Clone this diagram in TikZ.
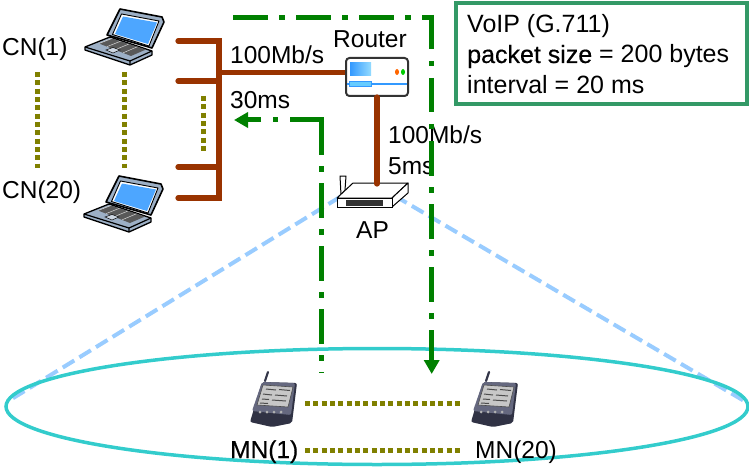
\documentclass[tikz,border=0pt]{standalone}
\usepackage{fontspec}
\setmainfont{Liberation Sans}
\newfontfamily\heavyface[FakeBold=0.4]{Liberation Sans}
\usetikzlibrary{arrows.meta,shapes.geometric,calc}
\definecolor{wire}{HTML}{993300}
\definecolor{flow}{HTML}{008000}
\definecolor{dots}{HTML}{808000}
\definecolor{cell}{HTML}{33CCCC}
\definecolor{cone}{HTML}{99CCFF}
\definecolor{boxline}{HTML}{339966}
\definecolor{scr}{HTML}{4DA6FF}
\definecolor{lapbody}{HTML}{9DB0C6}
\definecolor{pdabody}{HTML}{4A4D68}
\definecolor{routerblue}{HTML}{3399FF}
\definecolor{routerscr}{HTML}{66CCFF}
\tikzset{
  lbl/.style={anchor=base west,inner sep=0pt,font=\fontsize{24.5}{28}\selectfont,text=black},
  boxlbl/.style={anchor=base west,inner sep=0pt,font=\fontsize{25}{28}\selectfont,text=black},
  wireline/.style={draw=wire,line width=5.2pt,line cap=round,line join=miter},
  flowline/.style={draw=flow,line width=5pt,dash pattern=on 34.5pt off 11.5pt on 5.5pt off 11.5pt},
  flowtip/.style={-{Triangle[length=14pt,width=15pt]}},
  dotline/.style={draw=dots,line width=5pt,dash pattern=on 5pt off 3.33pt},
  conedash/.style={draw=cone,line width=4pt,dash pattern=on 13.5pt off 6pt},
  laptop/.pic={
    \fill[lapbody,draw=black,line width=1.3pt,line join=round]
      (85,47)--(110,37)--(152,51)--(152,55)--(130,65)--(85,50)--cycle;
    \draw[black,line width=1.2pt] (85,47)--(130,61)--(152,51) (130,61)--(130,65);
    \fill[black!65] (99,43.5)--(112,38.5)--(146,49.5)--(131,56)--cycle;
    \foreach \kt in {0,0.25,0.5,0.75}{
      \draw[black!15,line width=.5pt] ($(99,43.5)!\kt!(131,56)$)--($(112,38.5)!\kt!(146,49.5)$);}
    \fill[lapbody!50,draw=black,line width=.5pt] (106,50)--(113,47.5)--(120,50)--(113,53)--cycle;
    \fill[lapbody,draw=black,line width=1.6pt,line join=round]
      (120,9)--(162,17)--(164,22)--(152,48)--(107,35)--cycle;
    \fill[white,draw=black,line width=.9pt,line join=round] (121.5,14)--(159,21)--(149,46)--(112.5,34.5)--cycle;
    \fill[scr] (123,16.5)--(157,22.5)--(148,44)--(115,34)--cycle;
  },
  pda/.pic={
    \draw[pdabody!70!black,line width=2.2pt,line cap=round] (265,381)--(268,372);
    \fill[pdabody!65!black,rounded corners=2pt] (262,382)--(297,383)--(292,423)--(272,427)--(250,422)--cycle;
    \fill[pdabody!85!white,rounded corners=2pt] (262,382)--(295,383)--(291,415)--(252,411)--cycle;
    \fill[black!22,draw=black!70,line width=.6pt] (263,385)--(293,387)--(288,407)--(257,405)--cycle;
    \draw[black!70,line width=1pt] (266,389)--(276,390) (279,389.5)--(290,390.5)
      (263,394)--(272,395) (275,395)--(287,396)
      (262,399)--(269,399.5) (272,400)--(286,401)
      (260,403)--(268,403.5);
    \foreach \kx in {260,267,274,281}{\fill[black!30] (\kx,412) circle (1.5pt);}
  },
}
\begin{document}
\begin{tikzpicture}[x=1pt,y=-1pt]
\useasboundingbox (0,0) rectangle (749,468);

% coverage cone and cell
\coordinate (apL) at (340,197);
\coordinate (apR) at (395,196);
\coordinate (coneL) at (10,400);
\coordinate (coneR) at (746,402);
\draw[conedash] (apL)--(coneL);
\draw[conedash] (apR)--(coneR);
\node[draw=cell,line width=3.5pt,ellipse,minimum width=742pt,minimum height=116pt,inner sep=0pt] (cellzone) at (377,406.5) {};

% wired network
\coordinate (tTop) at (219,41);
\coordinate (tBot) at (219,198);
\coordinate (c1a) at (178,41);
\coordinate (c1b) at (178,81);
\coordinate (c2a) at (178,167);
\coordinate (c2b) at (178,198);
\coordinate (j1) at (219,81);
\coordinate (j2) at (219,167);
\coordinate (j3) at (219,72.5);
\draw[wireline] (c1a)--(tTop)--(tBot)--(c2b);
\draw[wireline] (c1b)--(j1);
\draw[wireline] (c2a)--(j2);

% router
\node[draw=black!80,fill=white,line width=2pt,rounded corners=3.5pt,minimum width=62pt,minimum height=38pt,inner sep=0pt] (router) at (377,77) {};
\shade[left color=routerblue,right color=routerscr!70!white] (350,63) rectangle (371,76);
\draw[routerblue,line width=1.5pt] (347,84)--(407,84);
\draw[routerblue,fill=routerscr,line width=1pt] (349,82) rectangle (371,87);
\fill[orange!80!red] (397,72) ellipse [x radius=2pt,y radius=3pt];
\fill[green!80!black] (403,72) ellipse [x radius=2pt,y radius=3pt];
\draw[wireline,line cap=butt] (j3)--(j3 -| router.west);

% AP
\coordinate (apTop) at (377,184);
\fill[white,draw=black,line width=1pt,line join=round] (340,176)--(346,176)--(345,190)--(341,195)--cycle;
\fill[white,draw=black,line width=1pt,line join=round] (337,198)--(353,183)--(408,183)--(392,198)--cycle;
\fill[white,draw=black,line width=1pt,line join=round] (408,183)--(408,193)--(392,207)--(392,198)--cycle;
\node[draw=black,fill=white,line width=1pt,minimum width=55pt,minimum height=9pt,inner sep=0pt] (ap) at (364.5,202.5) {};
\fill[black!80] (346,200) rectangle (383,206);
\draw[wireline] (router.south)--(apTop);

% devices
\pic at (0,0) {laptop};
\pic at (-1,167) {laptop};
\pic at (0,0) {pda};
\pic at (221,0) {pda};

% dotted ellipses
\coordinate (d1a) at (37.5,72); \coordinate (d1b) at (37.5,168);
\coordinate (d2a) at (124.5,72); \coordinate (d2b) at (124.5,168);
\coordinate (d3a) at (203.5,96); \coordinate (d3b) at (203.5,151);
\coordinate (d4a) at (305,403.3); \coordinate (d4b) at (461,403.3);
\coordinate (d5a) at (305,450); \coordinate (d5b) at (461,450);
\draw[dotline] (d1a)--(d1b);
\draw[dotline] (d2a)--(d2b);
\draw[dotline] (d3a)--(d3b);
\draw[dotline] (d4a)--(d4b);
\draw[dotline] (d5a)--(d5b);

% labels
\node[lbl] (cn1) at (2,56) {CN(1)};
\node[lbl] (cn20) at (2,198) {CN(20)};
\node[lbl] (bw1) at (230,63.5) {100Mb/s};
\node[lbl] (dl1) at (230,109) {30ms};
\node[lbl] (rt) at (333,48) {Router};
\node[lbl] (bw2) at (388,143) {100Mb/s};
\node[lbl] (dl2) at (388,174) {5ms};
\node[lbl] (aplbl) at (356,238) {AP};
\node[lbl] (mn1) at (230,458) {\heavyface MN(1)};
\node[lbl] (mn20) at (475,458) {MN(20)};

% flows
\coordinate (f1a) at (233,17.3);
\coordinate (f1b) at (431.7,17.3);
\coordinate (f1s) at (431.7,15);
\coordinate (f1c) at (431.7,374);
\draw[flowline] (f1a)--(f1b);
\draw[flowline,flowtip] (f1s)--(f1c);
\coordinate (f2a) at (321.5,373);
\coordinate (f2s) at (321.5,120);
\coordinate (f2b) at (324,120);
\coordinate (f2c) at (234,120);
\draw[flowline] (f2s)--(f2a);
\draw[flowline,flowtip] (f2b)--(f2c);

% info box
\node[draw=boxline,fill=white,line width=3.5pt,minimum width=291pt,minimum height=101pt,inner sep=0pt] (info) at (601.5,53.5) {};
\node[boxlbl] (i1) at (467,33) {VoIP (G.711)};
\node[boxlbl] (i2) at (467,63) {{\heavyface packet size} = 200 bytes};
\node[boxlbl] (i3) at (467,93.5) {interval = 20 ms};
\end{tikzpicture}
\end{document}
